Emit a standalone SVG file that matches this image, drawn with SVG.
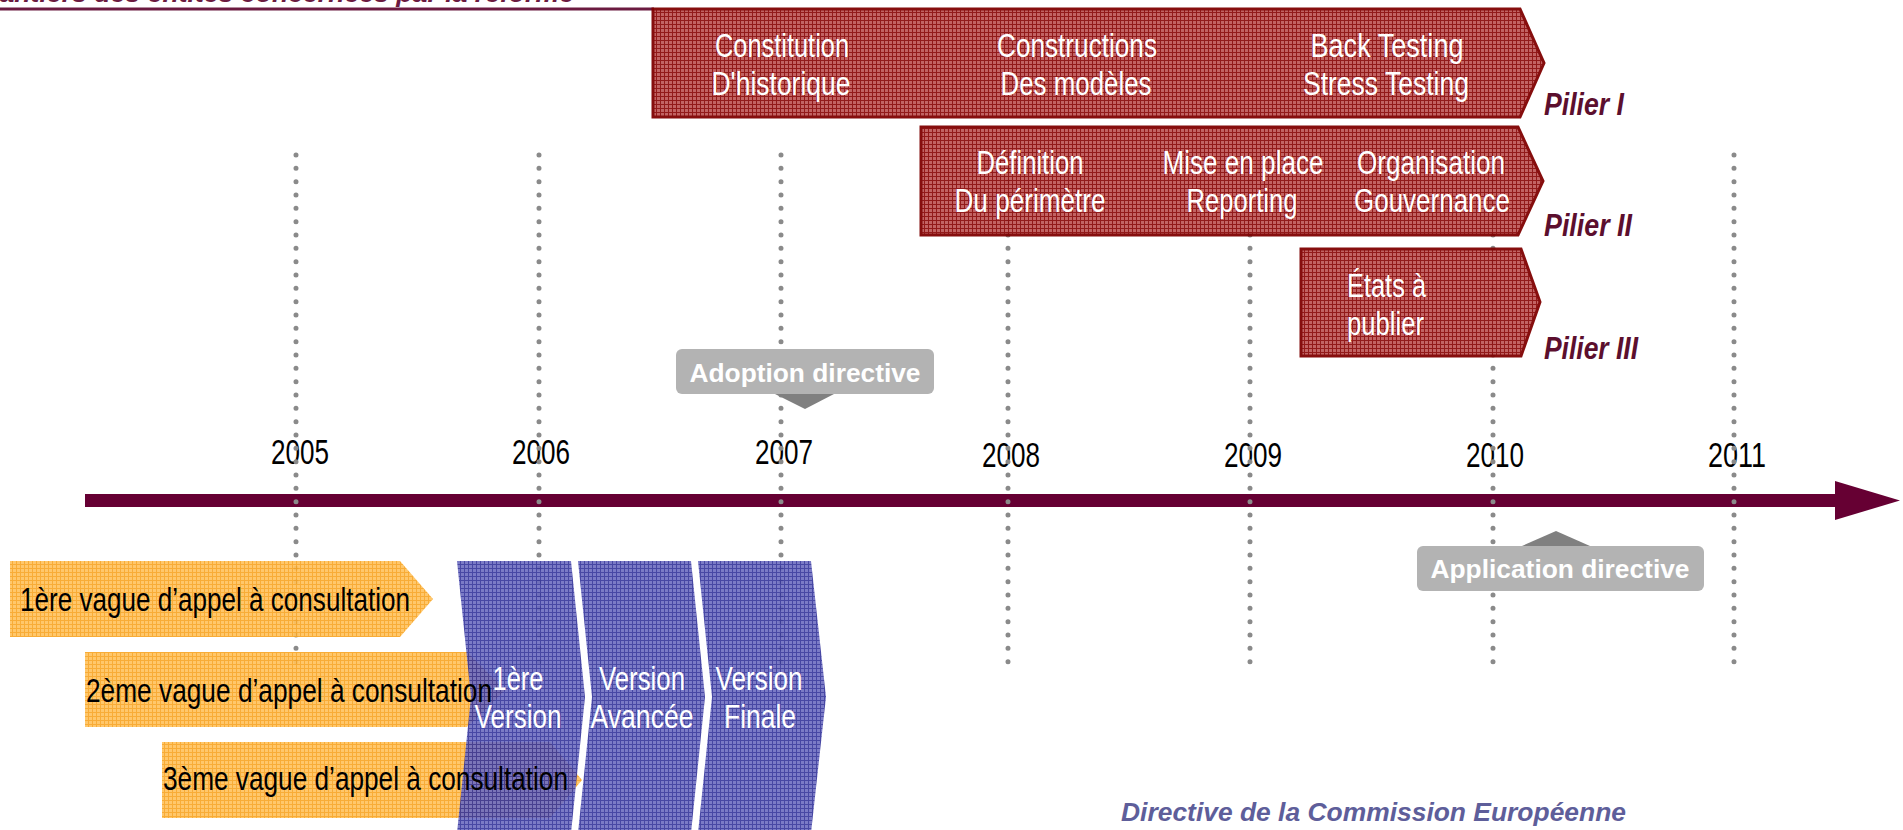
<svg xmlns="http://www.w3.org/2000/svg" width="1903" height="830" viewBox="0 0 1903 830">
<style>
.nw{font-family:'Liberation Sans Narrow','Arial Narrow','Liberation Sans',sans-serif;font-size:33px;fill:#ffffff}
.nb{font-family:'Liberation Sans Narrow','Arial Narrow','Liberation Sans',sans-serif;font-size:34px;fill:#000000}
.yr{font-family:'Liberation Sans Narrow','Arial Narrow','Liberation Sans',sans-serif;font-size:35px;fill:#000000;text-anchor:middle}
.pl{font-family:'Liberation Sans Narrow','Arial Narrow','Liberation Sans',sans-serif;font-size:31px;font-weight:bold;font-style:italic;fill:#5c0f2e}
.mid{text-anchor:middle}
.call{font-family:'Liberation Sans',Arial,sans-serif;font-size:25px;font-weight:bold;fill:#ffffff;text-anchor:middle}
.dots{stroke:#8a8a8a;stroke-width:5;stroke-linecap:round;stroke-dasharray:0 13.333;fill:none}
.red{fill:url(#redPat);stroke:#7f0000;stroke-width:3;opacity:0.94}
.blue{fill:url(#bluePat);opacity:0.9}
.orange{fill:url(#orPat);opacity:0.92}
</style>
<defs>
<pattern id="redPat" width="4" height="4" patternUnits="userSpaceOnUse">
<rect width="4" height="4" fill="#bf5a5a"/>
<rect width="4" height="1" fill="#8c0c0c"/>
<rect width="1" height="4" fill="#8c0c0c"/>
</pattern>
<pattern id="bluePat" width="4" height="4" patternUnits="userSpaceOnUse">
<rect width="4" height="4" fill="#6c6cc0"/>
<rect width="4" height="1" fill="#34349a"/>
<rect width="1" height="4" fill="#34349a"/>
</pattern>
<pattern id="orPat" width="4" height="4" patternUnits="userSpaceOnUse">
<rect width="4" height="4" fill="#ffc25e"/>
<rect width="4" height="1" fill="#f7a526"/>
<rect width="1" height="4" fill="#f7a526"/>
</pattern>
</defs>
<rect width="1903" height="830" fill="#ffffff"/>

<g id="title">
<text x="-36" y="2" textLength="610" lengthAdjust="spacingAndGlyphs" style="font-family:'Liberation Sans',Arial,sans-serif;font-size:26.6px;font-weight:bold;font-style:italic;fill:#6b1a40">Chantiers des entités concernées par la réforme</text>
<line x1="0" y1="9" x2="654" y2="9" stroke="#6b1a40" stroke-width="3"/>
</g>

<g id="timeline">
<rect x="85" y="494" width="1752" height="13" fill="#660033"/>
<polygon points="1835,481 1900,500.5 1835,520" fill="#660033"/>
</g>

<g id="years">
<text class="yr" x="300" y="464" textLength="58" lengthAdjust="spacingAndGlyphs">2005</text>
<text class="yr" x="541" y="464" textLength="58" lengthAdjust="spacingAndGlyphs">2006</text>
<text class="yr" x="784" y="464" textLength="58" lengthAdjust="spacingAndGlyphs">2007</text>
<text class="yr" x="1011" y="467" textLength="58" lengthAdjust="spacingAndGlyphs">2008</text>
<text class="yr" x="1253" y="467" textLength="58" lengthAdjust="spacingAndGlyphs">2009</text>
<text class="yr" x="1495" y="467" textLength="58" lengthAdjust="spacingAndGlyphs">2010</text>
<text class="yr" x="1737" y="467" textLength="58" lengthAdjust="spacingAndGlyphs">2011</text>
</g>

<g id="connectors">
<line class="dots" x1="296" y1="155" x2="296" y2="662"/>
<line class="dots" x1="539" y1="155" x2="539" y2="662"/>
<line class="dots" x1="781" y1="155" x2="781" y2="662"/>
<line class="dots" x1="1008" y1="155" x2="1008" y2="662"/>
<line class="dots" x1="1250" y1="155" x2="1250" y2="662"/>
<line class="dots" x1="1493" y1="155" x2="1493" y2="662"/>
<line class="dots" x1="1734" y1="155" x2="1734" y2="662"/>
</g>

<g id="vague1">
<polygon class="orange" points="10,561 400,561 433,599 400,637 10,637"/>
</g>
<g id="vague2">
<polygon class="orange" points="85,652 467,652 505,690 467,727 85,727"/>
</g>
<g id="vague3">
<polygon class="orange" points="162,742 550,742 582,780 550,818 162,818"/>
</g>

<g id="version1">
<polygon class="blue" points="457,561 571,561 585,697 571,833 457,833 471,697"/>
</g>
<g id="version2">
<polygon class="blue" points="578,561 691,561 705,697 691,833 578,833 592,697"/>
</g>
<g id="version3">
<polygon class="blue" points="698,561 811,561 826,697 811,833 698,833 712,697"/>
</g>

<g id="labels-waves">
<text class="nb" x="20" y="611" textLength="390" lengthAdjust="spacingAndGlyphs">1ère vague d’appel à consultation</text>
<text class="nb" x="86" y="702" textLength="406" lengthAdjust="spacingAndGlyphs">2ème vague d’appel à consultation</text>
<text class="nb" x="163" y="790" textLength="405" lengthAdjust="spacingAndGlyphs">3ème vague d’appel à consultation</text>
</g>
<g id="labels-versions">
<text class="nw mid" x="518" y="690" textLength="51" lengthAdjust="spacingAndGlyphs">1ère</text>
<text class="nw mid" x="518" y="728" textLength="87" lengthAdjust="spacingAndGlyphs">Version</text>
<text class="nw mid" x="642" y="690" textLength="86" lengthAdjust="spacingAndGlyphs">Version</text>
<text class="nw mid" x="642" y="728" textLength="103" lengthAdjust="spacingAndGlyphs">Avancée</text>
<text class="nw mid" x="759" y="690" textLength="87" lengthAdjust="spacingAndGlyphs">Version</text>
<text class="nw mid" x="760" y="728" textLength="72" lengthAdjust="spacingAndGlyphs">Finale</text>
</g>

<g id="pilier1">
<polygon class="red" points="653,9 1520,9 1544,63 1520,117 653,117"/>
<text class="nw mid" x="782" y="57" textLength="134" lengthAdjust="spacingAndGlyphs">Constitution</text>
<text class="nw mid" x="781" y="95" textLength="139" lengthAdjust="spacingAndGlyphs">D'historique</text>
<text class="nw mid" x="1077" y="57" textLength="160" lengthAdjust="spacingAndGlyphs">Constructions</text>
<text class="nw mid" x="1076" y="95" textLength="151" lengthAdjust="spacingAndGlyphs">Des modèles</text>
<text class="nw mid" x="1387" y="57" textLength="153" lengthAdjust="spacingAndGlyphs">Back Testing</text>
<text class="nw mid" x="1386" y="95" textLength="166" lengthAdjust="spacingAndGlyphs">Stress Testing</text>
<text class="pl" x="1544" y="115" textLength="80" lengthAdjust="spacingAndGlyphs">Pilier I</text>
</g>

<g id="pilier2">
<polygon class="red" points="921,127 1518,127 1543,181 1518,235 921,235"/>
<text class="nw mid" x="1030" y="174" textLength="107" lengthAdjust="spacingAndGlyphs">Définition</text>
<text class="nw mid" x="1030" y="212" textLength="151" lengthAdjust="spacingAndGlyphs">Du périmètre</text>
<text class="nw mid" x="1243" y="174" textLength="161" lengthAdjust="spacingAndGlyphs">Mise en place</text>
<text class="nw mid" x="1242" y="212" textLength="111" lengthAdjust="spacingAndGlyphs">Reporting</text>
<text class="nw mid" x="1431" y="174" textLength="148" lengthAdjust="spacingAndGlyphs">Organisation</text>
<text class="nw mid" x="1432" y="212" textLength="156" lengthAdjust="spacingAndGlyphs">Gouvernance</text>
<text class="pl" x="1544" y="236" textLength="88" lengthAdjust="spacingAndGlyphs">Pilier II</text>
</g>

<g id="pilier3">
<polygon class="red" points="1301,249 1521,249 1540,302 1521,356 1301,356"/>
<text class="nw" x="1347" y="297" textLength="79" lengthAdjust="spacingAndGlyphs">États à</text>
<text class="nw" x="1347" y="335" textLength="77" lengthAdjust="spacingAndGlyphs">publier</text>
<text class="pl" x="1544" y="359" textLength="94" lengthAdjust="spacingAndGlyphs">Pilier III</text>
</g>

<g id="adoption">
<polygon points="775,394 834,394 805,409" fill="#808080"/>
<rect x="676" y="349" width="258" height="45" rx="6" fill="#b3b3b3"/>
<text class="call" x="805" y="382" textLength="231" lengthAdjust="spacingAndGlyphs">Adoption directive</text>
</g>

<g id="application">
<polygon points="1522,546 1590,546 1556,531" fill="#808080"/>
<rect x="1417" y="546" width="287" height="45" rx="6" fill="#b3b3b3"/>
<text class="call" x="1560" y="578" textLength="259" lengthAdjust="spacingAndGlyphs">Application directive</text>
</g>

<g id="source">
<text x="1121" y="821" textLength="505" lengthAdjust="spacingAndGlyphs" style="font-family:'Liberation Sans',Arial,sans-serif;font-size:26px;font-weight:bold;font-style:italic;fill:#5e5e9a">Directive de la Commission Européenne</text>
</g>
</svg>
